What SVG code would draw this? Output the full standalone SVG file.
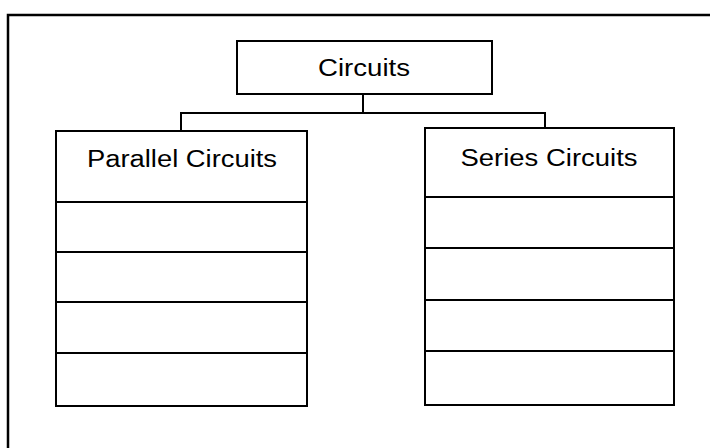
<svg xmlns="http://www.w3.org/2000/svg" width="710" height="448" viewBox="0 0 710 448">
<style>
.box{fill:#fff;stroke:#000;stroke-width:2}
.div{stroke:#000;stroke-width:2}
.lbl{font-family:"Liberation Sans",Arial,sans-serif;font-size:23px;fill:#000;text-anchor:middle}
.conn{fill:none;stroke:#000;stroke-width:2}
</style>
<rect width="710" height="448" fill="#fff"/>
<g id="frame"><path d="M8,448 V15 H710" fill="none" stroke="#000" stroke-width="2.5"/></g>
<g id="connectors">
<path class="conn" d="M363,94 V112"/>
<path class="conn" d="M181,131 V113 H545 V128"/>
</g>
<g id="circuits">
<rect class="box" x="237" y="41" width="255" height="53"/>
<text class="lbl" x="364" y="76" textLength="92" lengthAdjust="spacingAndGlyphs">Circuits</text>
</g>
<g id="parallel">
<rect class="box" x="56" y="131" width="251" height="275"/>
<line class="div" x1="56" y1="202" x2="307" y2="202"/>
<line class="div" x1="56" y1="252" x2="307" y2="252"/>
<line class="div" x1="56" y1="302" x2="307" y2="302"/>
<line class="div" x1="56" y1="353" x2="307" y2="353"/>
<text class="lbl" x="182" y="167" textLength="190" lengthAdjust="spacingAndGlyphs">Parallel Circuits</text>
</g>
<g id="series">
<rect class="box" x="425" y="128" width="249" height="277"/>
<line class="div" x1="425" y1="197" x2="674" y2="197"/>
<line class="div" x1="425" y1="248" x2="674" y2="248"/>
<line class="div" x1="425" y1="300" x2="674" y2="300"/>
<line class="div" x1="425" y1="351" x2="674" y2="351"/>
<text class="lbl" x="549" y="166" textLength="177" lengthAdjust="spacingAndGlyphs">Series Circuits</text>
</g>
</svg>
